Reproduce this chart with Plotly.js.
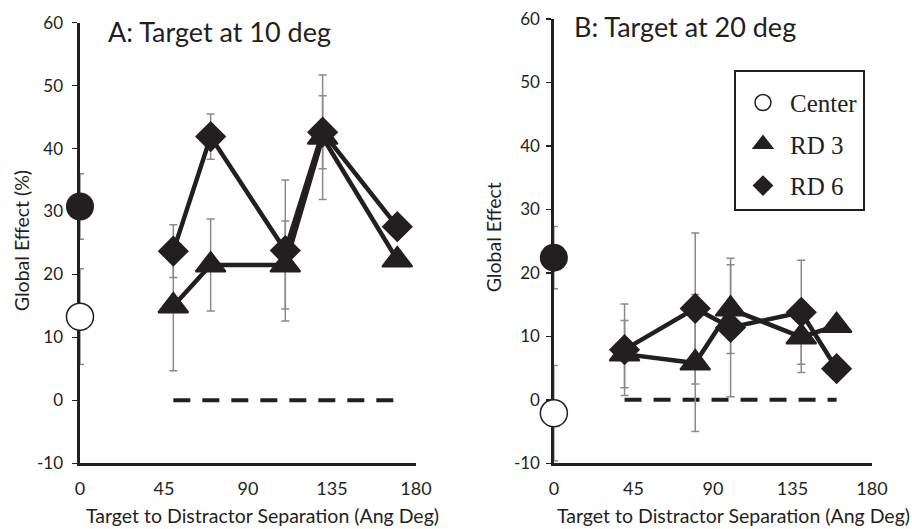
<!DOCTYPE html>
<html>
<head>
<meta charset="utf-8">
<script src="https://cdn.plot.ly/plotly-3.0.1.min.js"></script>
<style>
  html, body { margin: 0; padding: 0; background: #ffffff; }
  #chart { width: 912px; height: 529px; }
</style>
</head>
<body>
<div id="chart"></div>
<script>
// ---------- data ----------
const xTicks = [0, 45, 90, 135, 180];
const yTickVals = [-10, 0, 10, 20, 30, 40, 50, 60];
const yTickText = ['-10', '0', '10', '20', '30', '40', '50', '60'];
const centerX = [0];

// Panel A: target at 10 deg
const sepA = [50, 70, 110, 130, 170];
const rd3A = [15.0, 21.5, 21.5, 41.8, 22.3];
const rd3AErr = [10.3, 7.3, 7.0, 9.9, 1.0];
const rd6A = [23.7, 41.9, 23.8, 42.6, 27.6];
const rd6AErr = [4.2, 3.6, 11.2, 5.8, 1.0];
const zeroA = [0, 0, 0, 0, 0];
const centerA = [13.3];
const centerAErr = [7.6];
const filledA = [30.8];
const filledAErr = [5.2];

// Panel B: target at 20 deg
const sepB = [40, 80, 100, 140, 160];
const rd3B = [7.2, 5.8, 14.3, 9.9, 11.7];
const rd3BErr = [5.3, 10.8, 7.0, 5.6, 1.0];
const rd6B = [7.9, 14.4, 11.4, 13.8, 4.9];
const rd6BErr = [7.2, 11.9, 10.9, 8.2, 1.0];
const zeroB = [0, 0, 0, 0, 0];
const centerB = [-2.1];
const centerBErr = [7.5];
const filledB = [22.4];
const filledBErr = [4.9];

const legendNames = ['Center', 'RD 3', 'RD 6'];
const panelTitles = ['A: Target at 10 deg', 'B: Target at 20 deg'];
const xTitle = 'Target to Distractor Separation (Ang Deg)';
const yTitles = ['Global Effect (%)', 'Global Effect'];

// ---------- styles ----------
const INK = '#231f20';
const ERR = '#8a8a8a';
const SANS = 'Lato, "Open Sans", sans-serif';

function errBar(arr) {
  return { type: 'data', array: arr, visible: true, color: ERR, thickness: 1.5, width: 4 };
}

function panelTraces(xa, ya, sep, rd3, rd3Err, rd6, rd6Err, zero, center, centerErr, filled, filledErr, withLegend) {
  return [
    { x: sep, y: zero, xaxis: xa, yaxis: ya, mode: 'lines', showlegend: false, hoverinfo: 'skip',
      line: { color: INK, width: 4, dash: '17px,12px' } },
    { x: sep, y: rd3, xaxis: xa, yaxis: ya, mode: 'lines', showlegend: false,
      line: { color: INK, width: 4.5 }, error_y: errBar(rd3Err) },
    { x: sep, y: rd6, xaxis: xa, yaxis: ya, mode: 'lines', showlegend: false,
      line: { color: INK, width: 4.5 }, error_y: errBar(rd6Err) },
    { x: centerX, y: filled, xaxis: xa, yaxis: ya, mode: 'markers', showlegend: false, cliponaxis: false,
      marker: { symbol: 'circle', size: 28, color: INK }, error_y: errBar(filledErr) },
    { x: centerX, y: center, xaxis: xa, yaxis: ya, mode: 'markers', name: legendNames[0],
      legendgroup: 'g0', showlegend: withLegend, cliponaxis: false,
      marker: { symbol: 'circle', size: 27, color: '#ffffff', line: { color: INK, width: 1.5 } },
      error_y: errBar(centerErr) },
    { x: sep, y: rd3, xaxis: xa, yaxis: ya, mode: 'markers', name: legendNames[1],
      legendgroup: 'g1', showlegend: withLegend, cliponaxis: false,
      marker: { symbol: 'triangle-up', size: 26, color: INK, line: { color: INK, width: 2 } } },
    { x: sep, y: rd6, xaxis: xa, yaxis: ya, mode: 'markers', name: legendNames[2],
      legendgroup: 'g2', showlegend: withLegend, cliponaxis: false,
      marker: { symbol: 'diamond', size: 24, color: INK } }
  ];
}

const data = [].concat(
  panelTraces('x', 'y', sepA, rd3A, rd3AErr, rd6A, rd6AErr, zeroA, centerA, centerAErr, filledA, filledAErr, false),
  panelTraces('x2', 'y2', sepB, rd3B, rd3BErr, rd6B, rd6BErr, zeroB, centerB, centerBErr, filledB, filledBErr, true)
);

function xAxis(domain, anchor) {
  return {
    domain: domain, anchor: anchor, range: [0, 180], tickmode: 'array', tickvals: xTicks,
    showline: true, linecolor: INK, linewidth: 2.5, ticks: '', showgrid: false, zeroline: false,
    layer: 'below traces', tickfont: { family: SANS, size: 18, color: INK }, ticklabelstandoff: 8,
    fixedrange: true
  };
}
function yAxis(domain, anchor, standoff) {
  return {
    domain: domain, anchor: anchor, range: [-10, 60], tickmode: 'array',
    tickvals: yTickVals, ticktext: yTickText,
    showline: true, linecolor: INK, linewidth: 2.5, ticks: 'outside', ticklen: 5, tickwidth: 1.5,
    tickcolor: INK, showgrid: false, zeroline: false, layer: 'below traces',
    tickfont: { family: SANS, size: 17, color: INK }, ticklabelstandoff: standoff, fixedrange: true
  };
}

const titleFont = { family: SANS, size: 27, color: INK };
const axFont = { family: SANS, size: 19.5, color: INK };

const layout = {
  width: 912, height: 529,
  margin: { l: 0, r: 0, t: 0, b: 0 },
  paper_bgcolor: '#ffffff', plot_bgcolor: '#ffffff',
  showlegend: true,
  xaxis: xAxis([0.0877, 0.4561], 'y'),
  yaxis: yAxis([0.1242, 0.9571], 'x', 6),
  xaxis2: xAxis([0.6073, 0.9561], 'y2'),
  yaxis2: yAxis([0.1242, 0.9641], 'x2', 3),
  legend: {
    x: 0.8048, y: 0.8677, xanchor: 'left', yanchor: 'top',
    bgcolor: '#ffffff', bordercolor: INK, borderwidth: 2,
    font: { family: '"Liberation Serif", "Times New Roman", serif', size: 25, color: INK },
    title: { text: ' ', font: { size: 6 } },
    itemwidth: 44, traceorder: 'grouped', tracegroupgap: 6, itemclick: false, itemdoubleclick: false
  },
  annotations: [
    { text: panelTitles[0], xref: 'paper', yref: 'paper', x: 0.1162, y: 0.940,
      xanchor: 'left', yanchor: 'middle', showarrow: false, font: titleFont },
    { text: panelTitles[1], xref: 'paper', yref: 'paper', x: 0.6272, y: 0.950,
      xanchor: 'left', yanchor: 'middle', showarrow: false, font: titleFont },
    { text: xTitle, xref: 'paper', yref: 'paper', x: 0.2878, y: 0,
      xanchor: 'center', yanchor: 'bottom', showarrow: false, font: axFont },
    { text: xTitle, xref: 'paper', yref: 'paper', x: 0.8040, y: 0,
      xanchor: 'center', yanchor: 'bottom', showarrow: false, font: axFont },
    { text: yTitles[0], xref: 'paper', yref: 'paper', x: 0.0230, y: 0.546, textangle: -90,
      xanchor: 'center', yanchor: 'middle', showarrow: false, font: axFont },
    { text: yTitles[1], xref: 'paper', yref: 'paper', x: 0.5420, y: 0.552, textangle: -90,
      xanchor: 'center', yanchor: 'middle', showarrow: false, font: axFont }
  ]
};

Plotly.newPlot('chart', data, layout, { displayModeBar: false, staticPlot: true });
</script>
</body>
</html>
